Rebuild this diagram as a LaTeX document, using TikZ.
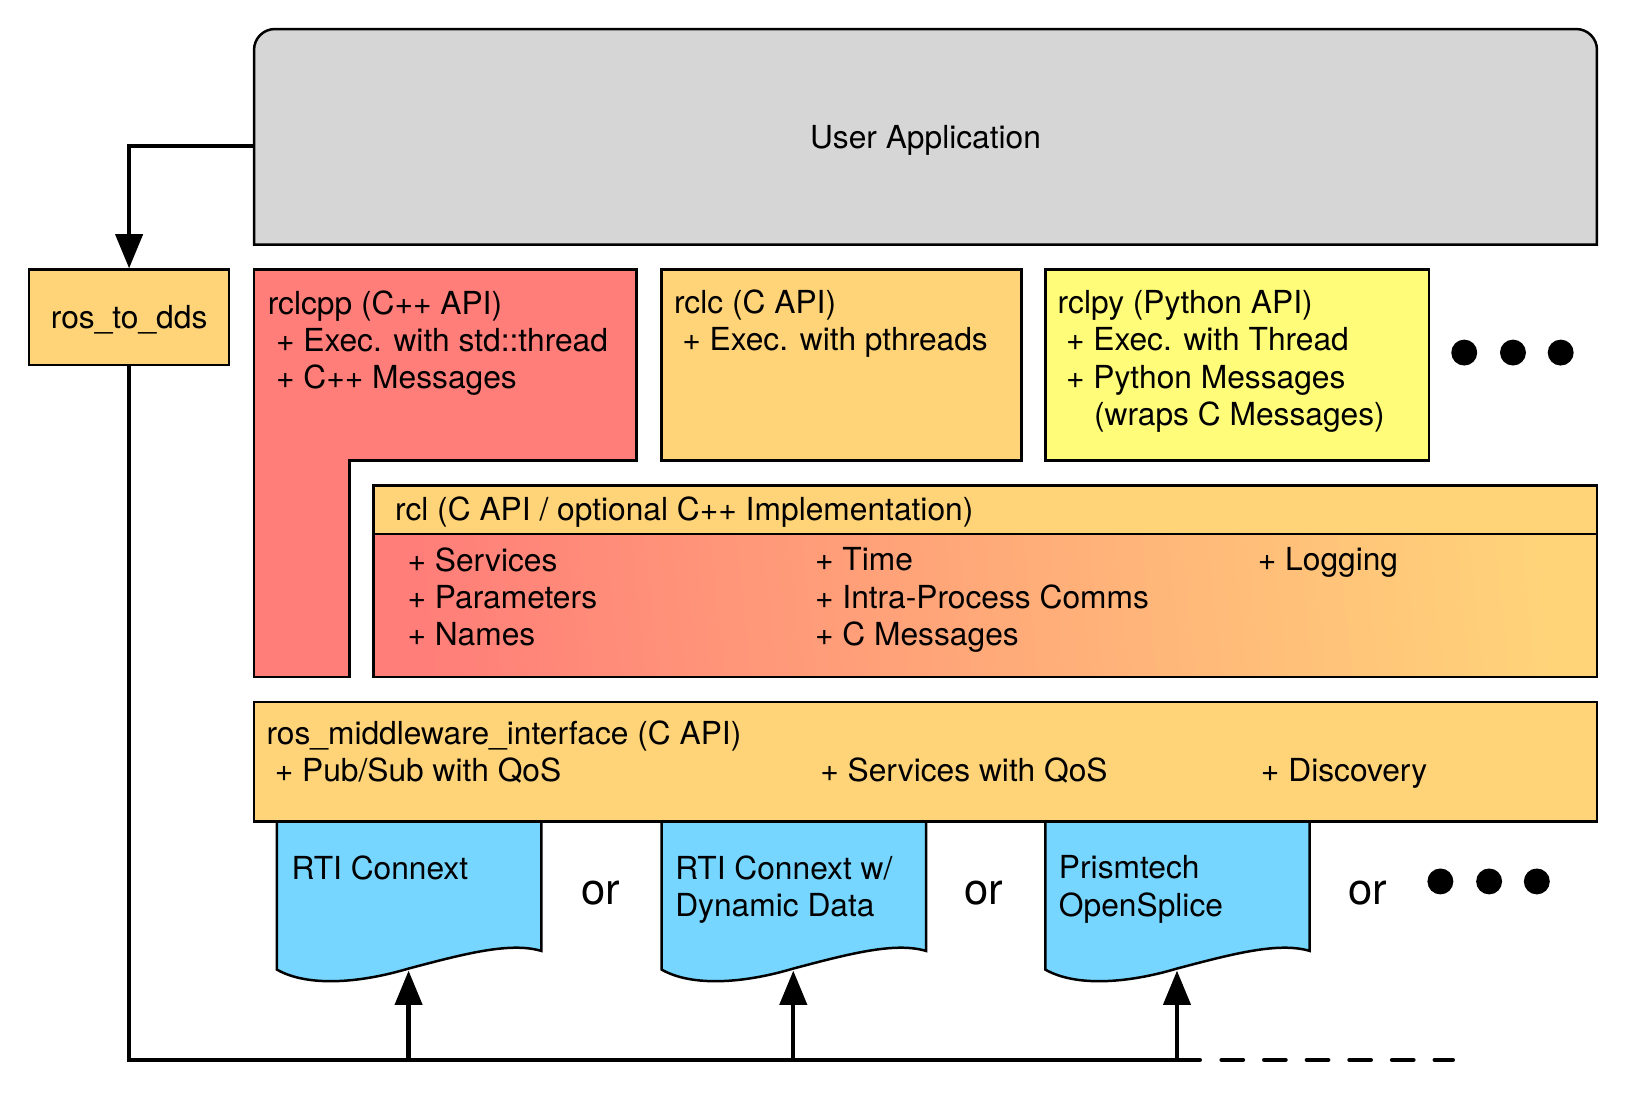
\documentclass[tikz,border=0pt]{standalone}
\usepackage{fontspec}
\setmainfont{TeX Gyre Heros}
\usetikzlibrary{arrows.meta}

\definecolor{appgrey}{RGB}{214,214,214}
\definecolor{cantaloupe}{RGB}{255,212,121}
\definecolor{salmon}{RGB}{255,126,121}
\definecolor{banana}{RGB}{255,252,121}
\definecolor{sky}{RGB}{118,214,255}

\begin{document}
\begin{tikzpicture}[x=1pt,y=-1pt,
  layer/.style={draw,line width=2.4pt,inner sep=0pt},
  lbl/.style={font=\fontsize{30.6}{36}\selectfont},
  txt/.style={lbl,inner sep=0pt,anchor=north west,align=left},
  conn/.style={line width=4.2pt},
  arr/.style={conn,-{Triangle[length=33pt,width=26pt]}}]

  \useasboundingbox (0,0) rectangle (1568,1057);

  % user application (only top corners rounded)
  \draw[layer,fill=appgrey] (245,236) -- (245,48) arc[start angle=180,end angle=90,radius=20pt] -- (1520,28) arc[start angle=90,end angle=0,radius=20pt] -- (1540,236) -- cycle;
  \node[lbl,inner sep=0pt,text depth=0pt,minimum width=1295pt,minimum height=208pt] at (892.5,132) (app) {User Application};

  \node[layer,lbl,text depth=0pt,fill=cantaloupe,minimum width=193pt,minimum height=92pt] at (124.5,306) (ros) {ros\_to\_dds};

  % client libraries
  \draw[layer,fill=salmon] (245,260) -- (614,260) -- (614,444) -- (337,444) -- (337,653) -- (245,653) -- cycle;
  \node[txt] at (258,280) (rclcpp) {rclcpp (C++ API)\\\hspace*{8pt}+ Exec. with std::thread\\\hspace*{8pt}+ C++ Messages};

  \node[layer,fill=cantaloupe,minimum width=347pt,minimum height=184pt] at (811.5,352) (rclc) {};
  \node[txt] at ([xshift=13pt,yshift=-20pt]rclc.north west) (rclctxt) {rclc (C API)\\\hspace*{8pt}+ Exec. with pthreads};

  \node[layer,fill=banana,minimum width=370pt,minimum height=184pt] at (1193,352) (rclpy) {};
  \node[txt] at ([xshift=13pt,yshift=-21pt]rclpy.north west) (rclpytxt) {rclpy (Python API)\\\hspace*{8pt}+ Exec. with Thread\\\hspace*{8pt}+ Python Messages\\\hspace*{35pt}(wraps C Messages)};

  \foreach \x in {1412,1459,1505} \fill (\x,340) circle[radius=12.5pt];

  % rcl
  \node[layer,left color=salmon,right color=cantaloupe,shading angle=96,minimum width=1180pt,minimum height=138pt] at (950,584) (rclbody) {};
  \node[layer,fill=cantaloupe,minimum width=1180pt,minimum height=47pt] at (950,491.5) (rcl) {};
  \node[txt] at ([xshift=22pt,yshift=-12pt]rcl.north west) (rcltxt) {rcl (C API / optional C++ Implementation)};
  \node[txt] at ([xshift=34pt,yshift=-14pt]rclbody.north west) (rclcol1) {+ Services\\+ Parameters\\+ Names};
  \node[txt] at ([xshift=427pt,yshift=-14pt]rclbody.north west) (rclcol2) {+ Time\\+ Intra-Process Comms\\+ C Messages};
  \node[txt] at ([xshift=854pt,yshift=-14pt]rclbody.north west) (rclcol3) {+ Logging};

  % dds implementations
  \foreach \x/\n in {267/rti,638/rtidyn,1008/splice} {
    \draw[layer,fill=sky] (\x,792) -- ({\x+255},792) -- ({\x+255},917) .. controls ({\x+225},908) and ({\x+180},920) .. ({\x+127},934) .. controls ({\x+80},948) and ({\x+30},952) .. (\x,935) -- cycle;
    \coordinate (\n) at ({\x+127},936);
  }
  \node[txt] at (281,825) (rtitxt) {RTI Connext};
  \node[txt] at (651,825) (rtidyntxt) {RTI Connext w/\\Dynamic Data};
  \node[txt] at (1021,825) (splicetxt) {Prismtech\\OpenSplice};

  \foreach \x [count=\i] in {579,949,1319} \node[font=\fontsize{42}{48}\selectfont] at (\x,861) (or\i) {or};
  \foreach \x in {1389,1436,1482} \fill (\x,850) circle[radius=12.5pt];

  % middleware interface
  \node[layer,fill=cantaloupe,minimum width=1295pt,minimum height=115pt] at (892.5,734.5) (rmw) {};
  \node[txt] at ([xshift=13pt,yshift=-19pt]rmw.north west) (rmwtxt) {ros\_middleware\_interface (C API)\\\hspace*{8pt}+ Pub/Sub with QoS};
  \node[txt] at ([xshift=547pt,yshift=-55pt]rmw.north west) (rmwsrv) {+ Services with QoS};
  \node[txt] at ([xshift=972pt,yshift=-55pt]rmw.north west) (rmwdisc) {+ Discovery};

  % connectors
  \coordinate (bus) at (124.5,1022);
  \coordinate (busend) at (1157,1022);
  \coordinate (dash0) at (1178,1022);
  \coordinate (dash1) at (1401,1022);
  \draw[arr] ([yshift=-9pt]app.west) -| (ros.north);
  \draw[conn,line cap=round] (ros.south) -- (bus) -- (busend);
  \draw[conn,line cap=round,dash pattern=on 20.6pt off 20.5pt] (dash0) -- (dash1);
  \foreach \n in {rti,rtidyn,splice} \draw[arr] (\n |- bus) -- (\n);

\end{tikzpicture}
\end{document}
